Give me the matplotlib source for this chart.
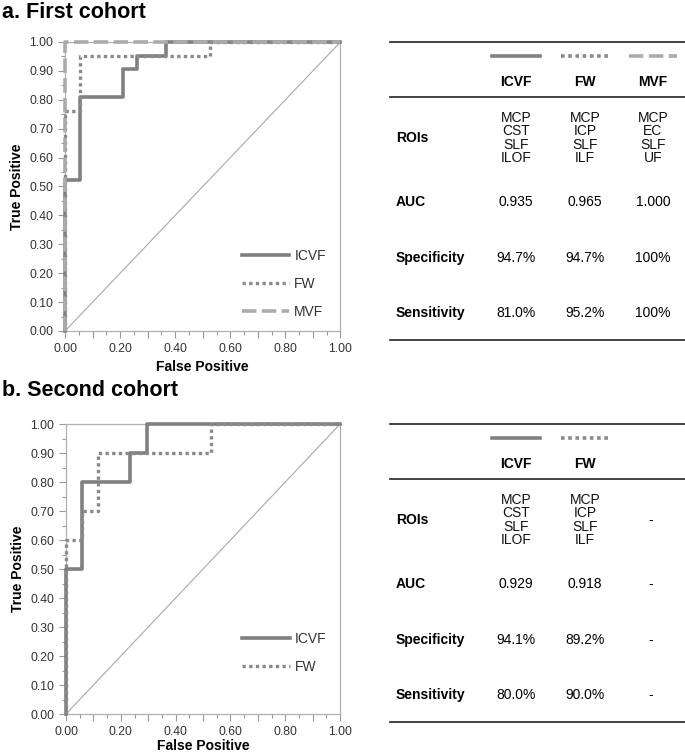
import matplotlib
matplotlib.use("Agg")
import matplotlib.pyplot as plt
from matplotlib.ticker import MultipleLocator, FormatStrFormatter

# ROC vertices
c1_icvf_fpr = [0, 0, 0.053, 0.053, 0.211, 0.211, 0.263, 0.263, 0.368, 0.368, 1.0]
c1_icvf_tpr = [0, 0.524, 0.524, 0.810, 0.810, 0.905, 0.905, 0.952, 0.952, 1.0, 1.0]
c1_fw_fpr = [0, 0, 0.053, 0.053, 0.526, 0.526, 1.0]
c1_fw_tpr = [0, 0.762, 0.762, 0.952, 0.952, 1.0, 1.0]
c1_mvf_fpr = [0, 0, 1.0]
c1_mvf_tpr = [0, 1.0, 1.0]

c2_icvf_fpr = [0, 0, 0.059, 0.059, 0.235, 0.235, 0.294, 0.294, 1.0]
c2_icvf_tpr = [0, 0.5, 0.5, 0.8, 0.8, 0.9, 0.9, 1.0, 1.0]
c2_fw_fpr = [0, 0, 0.059, 0.059, 0.118, 0.118, 0.529, 0.529, 1.0]
c2_fw_tpr = [0, 0.6, 0.6, 0.7, 0.7, 0.9, 0.9, 1.0, 1.0]

# table contents
row_labels = ["ROIs", "AUC", "Specificity", "Sensitivity"]
c1_cols = ["ICVF", "FW", "MVF"]
c1_rois = [["MCP", "CST", "SLF", "ILOF"], ["MCP", "ICP", "SLF", "ILF"], ["MCP", "EC", "SLF", "UF"]]
c1_auc = ["0.935", "0.965", "1.000"]
c1_spec = ["94.7%", "94.7%", "100%"]
c1_sens = ["81.0%", "95.2%", "100%"]
c2_cols = ["ICVF", "FW"]
c2_rois = [["MCP", "CST", "SLF", "ILOF"], ["MCP", "ICP", "SLF", "ILF"]]
c2_auc = ["0.929", "0.918"]
c2_spec = ["94.1%", "89.2%"]
c2_sens = ["80.0%", "90.0%"]

styles = {
    "ICVF": dict(color="#808080", linestyle="-", linewidth=2.6),
    "FW": dict(color="#8a8a8a", linestyle=(0, (1, 1)), linewidth=2.4),
    "MVF": dict(color="#ababab", linestyle=(0, (4, 1.5)), linewidth=2.6),
}

plt.rcParams["font.family"] = ["Liberation Sans", "DejaVu Sans"]

fig = plt.figure(figsize=(6.85, 7.55), dpi=100)


def roc_axes(rect, curves, xpad=4):
    ax = fig.add_axes(rect)
    ax.plot([0, 1], [0, 1], color="#a8a8a8", linewidth=0.8, zorder=1)
    for name, x, y in curves:
        ax.plot(x, y, label=name, zorder=3, clip_on=False, **styles[name])
    ax.set_xlim(0, 1)
    ax.set_ylim(0, 1)
    ax.xaxis.set_major_locator(MultipleLocator(0.1))
    ax.xaxis.set_minor_locator(MultipleLocator(0.05))
    ax.yaxis.set_major_locator(MultipleLocator(0.1))
    ax.yaxis.set_minor_locator(MultipleLocator(0.05))
    ax.xaxis.set_major_formatter(lambda v, p: "%.2f" % v if round(v * 10) % 2 == 0 else "")
    ax.yaxis.set_major_formatter(FormatStrFormatter("%.2f"))
    ax.tick_params(which="major", length=5, color="#999999", labelsize=8.8,
                   labelcolor="#333333", width=0.8)
    ax.tick_params(which="minor", length=3, color="#999999", width=0.8)
    for s in ax.spines.values():
        s.set_color("#b0b0b0")
        s.set_linewidth(0.9)
    ax.set_xlabel("False Positive", fontsize=10, fontweight="bold", labelpad=xpad)
    ax.set_ylabel("True Positive", fontsize=10, fontweight="bold", labelpad=4)
    leg = ax.legend(loc="upper left", bbox_to_anchor=(0.598, 0.327), frameon=False,
                    handlelength=3.4, handletextpad=0.35, labelspacing=1.0, fontsize=10)
    for t in leg.get_texts():
        t.set_color("#333333")
    return ax


roc_axes([0.095, 0.5616, 0.402, 0.3828],
         [("ICVF", c1_icvf_fpr, c1_icvf_tpr),
          ("FW", c1_fw_fpr, c1_fw_tpr),
          ("MVF", c1_mvf_fpr, c1_mvf_tpr)])
roc_axes([0.0964, 0.0543, 0.4, 0.384],
         [("ICVF", c2_icvf_fpr, c2_icvf_tpr),
          ("FW", c2_fw_fpr, c2_fw_tpr)], xpad=1)

fig.text(0.003, 0.998, "a. First cohort", fontsize=15.5, fontweight="bold", va="top")
fig.text(0.003, 0.497, "b. Second cohort", fontsize=15.5, fontweight="bold", va="top")

# tables drawn in pixel coordinates
tab = fig.add_axes([0, 0, 1, 1], facecolor="none")
tab.set_xlim(0, 685)
tab.set_ylim(755, 0)
tab.axis("off")


def draw_table(top, cols, rois, auc, spec, sens, dash_col=False):
    left, right = 390, 685
    col_x = [516, 585, 653]
    tab.plot([left, right], [top, top], color="#222222", linewidth=1.2)
    tab.plot([left, right], [top + 55, top + 55], color="#222222", linewidth=1.2)
    tab.plot([left, right], [top + 298, top + 298], color="#222222", linewidth=1.2)
    for i, c in enumerate(cols):
        st = dict(styles[c])
        st["linewidth"] = 2.6
        tab.plot([col_x[i] - 24, col_x[i] + 24], [top + 14, top + 14], **st)
        tab.text(col_x[i], top + 40, c, ha="center", va="center", fontsize=10,
                 fontweight="bold")
    row_y = [top + 96, top + 160, top + 216, top + 271]
    for lab, y in zip(row_labels, row_y):
        tab.text(396, y, lab, ha="left", va="center", fontsize=10, fontweight="bold")
    for i, r in enumerate(rois):
        for k, name in enumerate(r):
            tab.text(col_x[i], row_y[0] - 20 + k * 13.3, name, ha="center",
                     va="center", fontsize=10, color="#111111")
        tab.text(col_x[i], row_y[1], auc[i], ha="center", va="center", fontsize=10)
        tab.text(col_x[i], row_y[2], spec[i], ha="center", va="center", fontsize=10)
        tab.text(col_x[i], row_y[3], sens[i], ha="center", va="center", fontsize=10)
    if dash_col:
        for y in row_y:
            tab.text(col_x[2] - 2, y, "-", ha="center", va="center", fontsize=10)


draw_table(42, c1_cols, c1_rois, c1_auc, c1_spec, c1_sens)
draw_table(424, c2_cols, c2_rois, c2_auc, c2_spec, c2_sens, dash_col=True)

fig.savefig("out.png", dpi=100)
